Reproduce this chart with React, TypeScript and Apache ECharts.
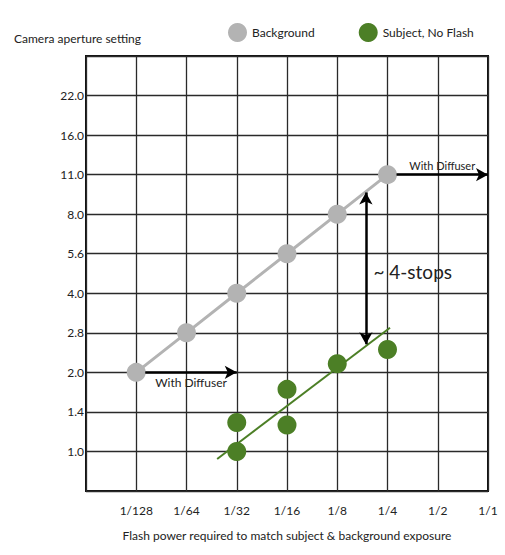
import React, { useEffect, useRef } from "react";
import * as echarts from "echarts";

// x positions are stops of flash power, index 0 = 1/128
const flashLabels = ["1/128", "1/64", "1/32", "1/16", "1/8", "1/4", "1/2", "1/1"];
// y positions are stops of aperture, index 0 = f/1.0
const apertureLabels = ["1.0", "1.4", "2.0", "2.8", "4.0", "5.6", "8.0", "11.0", "16.0", "22.0"];

// Background: [flash stop index, aperture stop index]
const backgroundPoints = [
  [0, 2],
  [1, 3],
  [2, 4],
  [3, 5],
  [4, 6],
  [5, 7],
];
// Subject, No Flash
const subjectPoints = [
  [2, 0.0],
  [2, 0.73],
  [3, 0.67],
  [3, 1.57],
  [4, 2.22],
  [5, 2.58],
];
// Fitted trend for subject
const subjectTrend = [
  [1.61, -0.19],
  [5.05, 3.13],
];
// Annotation arrows
const diffuserLowArrow = [
  [0.18, 2],
  [2, 2],
];
const diffuserHighArrow = [
  [5.18, 7],
  [7, 7],
];
const stopsArrow = [
  [4.57, 6.55],
  [4.57, 2.71],
];
const stopsLabelAt = [4.64, 4.56];

const FONT = "Lato, 'Open Sans', sans-serif";
const GRAY = "#b3b3b3";
const GREEN = "#4c7f26";

export default function App() {
  const ref = useRef<HTMLDivElement>(null);
  useEffect(() => {
    if (!ref.current) return;
    document.body.style.margin = "0";
    const chart = echarts.init(ref.current, null, { renderer: "svg" });
    const arrowStyle = { color: "#000", width: 2.5, type: "solid" as const };
    chart.setOption({
      animation: false,
      textStyle: { fontFamily: FONT, color: "#222" },
      title: {
        text: "Camera aperture setting",
        left: 9,
        top: 27,
        textStyle: { fontFamily: FONT, fontSize: 12, fontWeight: "normal", color: "#222" },
      },
      legend: {
        top: 18,
        left: 223,
        itemWidth: 19,
        itemHeight: 19,
        itemGap: 44,
        textStyle: { fontFamily: FONT, fontSize: 12, color: "#222" },
        data: [
          { name: "Background", icon: "circle" },
          { name: "Subject, No Flash", icon: "circle" },
        ],
      },
      grid: {
        left: 86,
        right: 17,
        top: 56,
        bottom: 64,
        show: true,
        borderColor: "#111",
        borderWidth: 2,
      },
      xAxis: {
        type: "value",
        min: -1,
        max: 7,
        interval: 1,
        name: "Flash power required to match subject & background exposure",
        nameLocation: "middle",
        nameGap: 38,
        nameTextStyle: { fontFamily: FONT, fontSize: 12, color: "#222" },
        axisLine: { show: false },
        axisTick: { show: false },
        splitLine: { show: true, lineStyle: { color: "#2a2a2a", width: 1.3 } },
        axisLabel: {
          fontFamily: FONT,
          fontSize: 12,
          color: "#222",
          margin: 13,
          showMinLabel: false,
          showMaxLabel: true,
          formatter: (v: number) => flashLabels[Math.round(v)] ?? "",
        },
      },
      yAxis: {
        type: "value",
        min: -1,
        max: 10,
        interval: 1,
        axisLine: { show: false },
        axisTick: { show: false },
        splitLine: { show: true, lineStyle: { color: "#2a2a2a", width: 1.3 } },
        axisLabel: {
          fontFamily: FONT,
          fontSize: 12,
          color: "#222",
          margin: 2,
          formatter: (v: number) => apertureLabels[Math.round(v)] ?? "",
        },
      },
      series: [
        {
          name: "Background",
          type: "line",
          data: backgroundPoints,
          symbol: "circle",
          symbolSize: 19,
          itemStyle: { color: GRAY },
          lineStyle: { color: GRAY, width: 3 },
          z: 3,
          markLine: {
            silent: true,
            symbol: ["none", "arrow"],
            symbolSize: [10, 12],
            lineStyle: arrowStyle,
            data: [
              [
                {
                  coord: diffuserLowArrow[0],
                  label: {
                    show: true,
                    position: "insideMiddleBottom",
                    formatter: "With Diffuser",
                    fontFamily: FONT,
                    fontSize: 12,
                    color: "#222",
                    distance: 4,
                  },
                },
                { coord: diffuserLowArrow[1] },
              ],
              [
                {
                  coord: diffuserHighArrow[0],
                  label: {
                    show: true,
                    position: "insideMiddleTop",
                    formatter: "With Diffuser",
                    fontFamily: FONT,
                    fontSize: 11,
                    color: "#222",
                    distance: 4,
                  },
                },
                { coord: diffuserHighArrow[1] },
              ],
              [
                { coord: stopsArrow[0], symbol: "arrow", label: { show: false } },
                { coord: stopsArrow[1], symbol: "arrow" },
              ],
            ],
          },
          markPoint: {
            silent: true,
            symbol: "circle",
            symbolSize: 0,
            data: [
              {
                coord: stopsLabelAt,
                label: {
                  show: true,
                  position: "right",
                  distance: 4,
                  formatter: "~ 4-stops",
                  fontFamily: FONT,
                  fontSize: 19,
                  color: "#222",
                },
              },
            ],
          },
        },
        {
          name: "Subject trend",
          type: "line",
          data: subjectTrend,
          symbol: "none",
          lineStyle: { color: GREEN, width: 2 },
          z: 2,
        },
        {
          name: "Subject, No Flash",
          type: "scatter",
          data: subjectPoints,
          symbol: "circle",
          symbolSize: 19,
          itemStyle: { color: GREEN, opacity: 1 },
          z: 4,
        },
      ],
    });
    return () => chart.dispose();
  }, []);
  return <div ref={ref} style={{ width: 505, height: 555 }} />;
}
